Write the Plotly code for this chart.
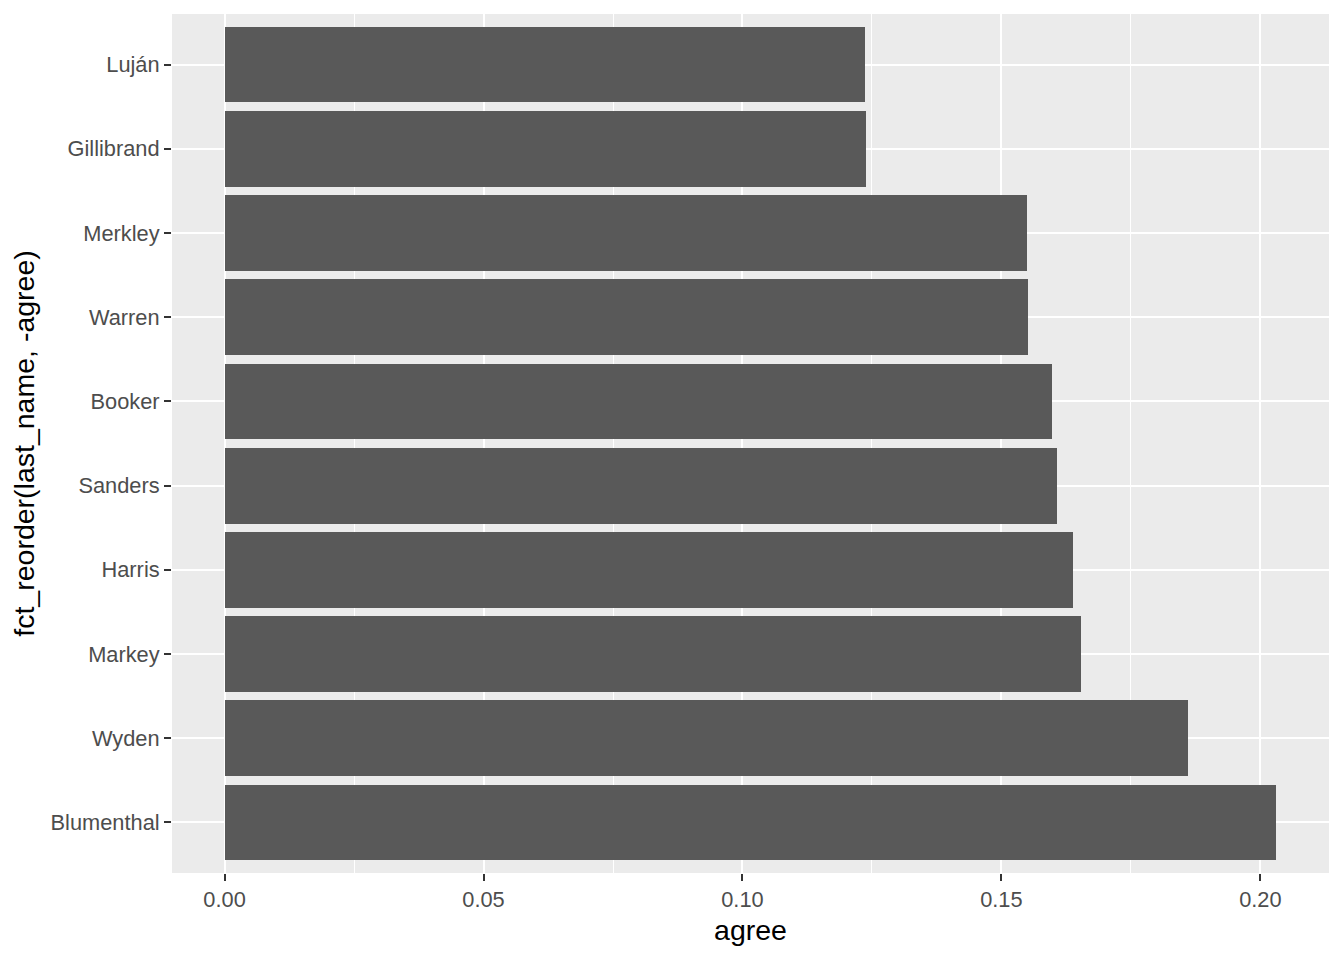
import plotly.graph_objects as go

names = ["Blumenthal", "Wyden", "Markey", "Harris", "Sanders", "Booker", "Warren", "Merkley", "Gillibrand", "Luján"]
agree = [0.2031, 0.1861, 0.1654, 0.1639, 0.1608, 0.1597, 0.1552, 0.1550, 0.1239, 0.1237]
positions = list(range(1, len(names) + 1))
xticks = [0.0, 0.05, 0.10, 0.15, 0.20]
xticklabels = ["0.00", "0.05", "0.10", "0.15", "0.20"]

fig = go.Figure()
fig.add_trace(go.Bar(
    x=agree, y=positions, orientation="h", width=0.9,
    marker=dict(color="#595959", line=dict(width=0)),
    hoverinfo="x+text", text=names, textposition="none",
))

xmax = max(agree)
pad = xmax * 0.05
fig.update_layout(
    width=1336, height=952,
    paper_bgcolor="white", plot_bgcolor="#EBEBEB",
    margin=dict(l=164, r=15, t=6, b=87),
    showlegend=False, bargap=0,
    font=dict(family="Liberation Sans, Arial, sans-serif"),
    xaxis=dict(
        range=[-pad, xmax + pad], tickvals=xticks, ticktext=xticklabels,
        showgrid=True, gridcolor="white", gridwidth=2,
        minor=dict(tickvals=[0.025, 0.075, 0.125, 0.175], showgrid=True, gridcolor="white", gridwidth=1, ticks=""),
        ticks="outside", ticklen=7, tickwidth=2, tickcolor="#333333",
        tickfont=dict(size=21.8, color="#4D4D4D"),
        zeroline=False, showline=False,
        title=dict(text="agree", font=dict(size=28.5, color="black"), standoff=8),
    ),
    yaxis=dict(
        range=[0.4, len(names) + 0.6], tickvals=positions, ticktext=names,
        showgrid=True, gridcolor="white", gridwidth=2,
        ticks="outside", ticklen=7, tickwidth=2, tickcolor="#333333",
        tickfont=dict(size=21.8, color="#4D4D4D"),
        zeroline=False, showline=False,
        title=dict(text="fct_reorder(last_name, -agree)", font=dict(size=28.5, color="black"), standoff=8),
    ),
)

fig.write_html("out.html")
